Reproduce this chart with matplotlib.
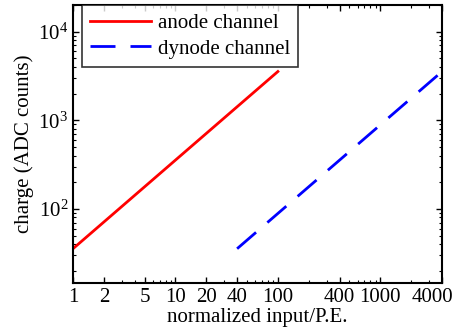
import numpy as np
import matplotlib
matplotlib.use('Agg')
import matplotlib.pyplot as plt
import matplotlib.transforms as mtransforms
from matplotlib.ticker import LogLocator, NullFormatter

plt.rcParams['font.family'] = 'Liberation Serif'
plt.rcParams['mathtext.fontset'] = 'custom'
plt.rcParams['mathtext.rm'] = 'Liberation Serif'
plt.rcParams['mathtext.it'] = 'Liberation Serif:italic'

# data
anode_x = [1, 100]
anode_y = [35.5, 3550]
dynode_x = [40, 4000]
dynode_y = [35.5, 3550]

xticks = [1, 2, 5, 10, 20, 40, 100, 400, 1000, 4000]
xticklabels = ['1', '2', '5', '10', '20', '40', '100', '400', '1000', '4000']

fig = plt.figure(figsize=(4.59, 3.34), dpi=100)
ax = fig.add_axes([0.159, 0.153, 0.804, 0.832])

ax.plot(anode_x, anode_y, '-', color='#ff0000', lw=2, label='anode channel')
ax.plot(dynode_x, dynode_y, '--', color='#0000ff', lw=2, dashes=(9, 5.4),
        label='dynode channel')

ax.set_xscale('log')
ax.set_yscale('log')
ax.set_xlim(1, 4000)
ax.set_ylim(14.6, 2.0e4)

ax.set_xticks(xticks)
ax.set_xticklabels(xticklabels)
ax.xaxis.set_minor_locator(LogLocator(base=10, subs=np.arange(2, 10)))
ax.xaxis.set_minor_formatter(NullFormatter())
ax.yaxis.set_major_locator(LogLocator(base=10, numticks=10))
ax.yaxis.set_minor_locator(LogLocator(base=10, subs=np.arange(2, 10), numticks=10))
ax.yaxis.set_minor_formatter(NullFormatter())

ax.tick_params(which='both', direction='in', top=True, right=True, labelsize=15)
ax.tick_params(which='major', length=4, width=1)
ax.tick_params(which='minor', length=2, width=0.8)
for s in ax.spines.values():
    s.set_linewidth(1.5)

# last x label pulled left so it stays inside the figure
last = ax.get_xticklabels()[-1]
last.set_transform(last.get_transform() +
                   mtransforms.ScaledTranslation(-10 / 100, 0, fig.dpi_scale_trans))

ax.set_xlabel('normalized input/P.E.', fontsize=15, labelpad=1)
ax.set_ylabel('charge (ADC counts)', fontsize=15, labelpad=3)

leg = ax.legend(loc='upper left', bbox_to_anchor=(0.024, 1.0), fontsize=15,
                frameon=True, fancybox=False, handlelength=2.9,
                borderaxespad=0, borderpad=0.4, labelspacing=0.3, handletextpad=0.35)
leg.get_frame().set_edgecolor('black')
leg.get_frame().set_linewidth(1.2)

fig.savefig('out.png', dpi=100)
